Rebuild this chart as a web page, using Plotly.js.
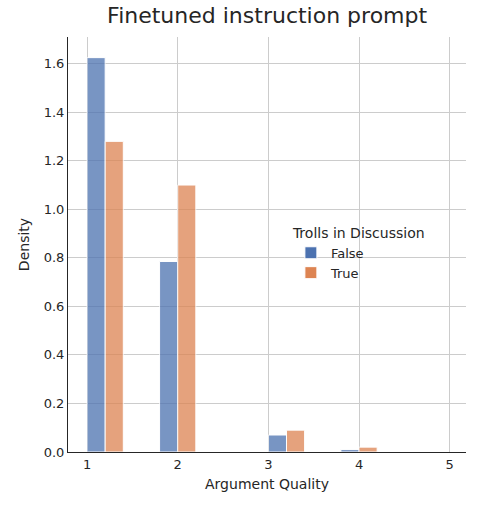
<!DOCTYPE html>
<html><head><script src="https://cdn.plot.ly/plotly-3.0.1.min.js"></script></head>
<body style="margin:0">
<div id="chart" style="width:477px;height:511px"></div>
<script>
const xFalse = [1.1, 1.9, 3.1, 3.9];
const yFalse = [1.625, 0.785, 0.07, 0.01];
const xTrue = [1.3, 2.1, 3.3, 4.1];
const yTrue = [1.28, 1.10, 0.09, 0.02];

const bar = (x, y, name, color) => ({
  x, y, name, type: 'bar', width: 0.2,
  marker: { color, opacity: 0.75, line: { color: '#FFFFFF', width: 1 } },
});

Plotly.newPlot('chart', [
  bar(xFalse, yFalse, 'False', '#4C72B0'),
  bar(xTrue, yTrue, 'True', '#DD8452'),
], {
  width: 477, height: 511,
  paper_bgcolor: '#FFFFFF', plot_bgcolor: '#FFFFFF',
  font: { family: 'DejaVu Sans, sans-serif', size: 13, color: '#262626' },
  margin: { l: 68, r: 11, t: 37, b: 59, autoexpand: false },
  barmode: 'overlay',
  title: { text: 'Finetuned instruction prompt', x: 0.56, xanchor: 'center', y: 0.985, yanchor: 'top', font: { size: 22, color: '#262626' } },
  xaxis: {
    range: [0.79, 5.18], tickvals: [1, 2, 3, 4, 5], gridcolor: '#CCCCCC', zeroline: false,
    showline: true, linecolor: '#262626', ticks: '', tickfont: { size: 13 },
    title: { text: 'Argument Quality', font: { size: 14 }, standoff: 8 },
  },
  yaxis: {
    range: [0, 1.71], dtick: 0.2, tickformat: '.1f', gridcolor: '#CCCCCC', zeroline: false,
    showline: true, linecolor: '#262626', ticks: '', tickfont: { size: 13 },
    title: { text: 'Density', font: { size: 14 }, standoff: 10 },
  },
  legend: {
    title: { text: 'Trolls in Discussion', side: 'top', font: { size: 14 } },
    x: 0.56, xanchor: 'left', y: 0.56, yanchor: 'top',
    bgcolor: 'rgba(0,0,0,0)', font: { size: 13 },
  },
}, { displayModeBar: false });
</script>
</body></html>
